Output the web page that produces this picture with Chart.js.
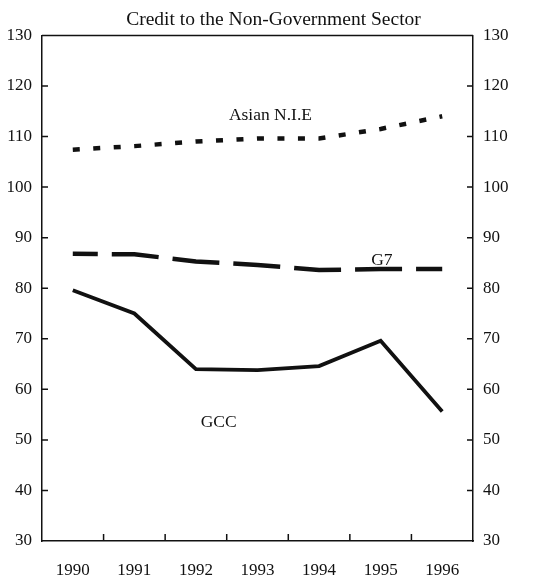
<!DOCTYPE html>
<html>
<head>
<meta charset="utf-8">
<script src="https://cdn.jsdelivr.net/npm/chart.js@4.4.1/dist/chart.umd.min.js"></script>
<style>
  body { margin: 0; background: #fff; }
  #creditChart { display: block; }
</style>
</head>
<body>
<canvas id="creditChart" width="547" height="582"></canvas>
<script>
// data
const years = ["1990", "1991", "1992", "1993", "1994", "1995", "1996"];
const asianNIE = [107.4, 108.1, 109.0, 109.6, 109.6, 111.5, 114.0];
const g7 = [86.8, 86.7, 85.3, 84.6, 83.6, 83.8, 83.8];
const gcc = [79.6, 75.0, 64.0, 63.8, 64.6, 69.6, 55.6];
const yTicks = [30, 40, 50, 60, 70, 80, 90, 100, 110, 120, 130];

const SERIF = "'Liberation Serif', 'DejaVu Serif', serif";
const INK = "#111";

// series names written next to the lines: [text, category index, value]
const seriesLabels = [
  ["Asian N.I.E", 3.21, 114.2],
  ["G7", 5.02, 85.4],
  ["GCC", 2.37, 53.4],
];

////////////// frame, inward ticks and line labels
const framePlugin = {
  id: "frame",
  afterDraw(chart) {
    const ctx = chart.ctx;
    const area = chart.chartArea;
    const x = chart.scales.x;
    const y = chart.scales.y;

    ctx.save();
    ctx.strokeStyle = INK;
    ctx.lineWidth = 1.5;

    // top edge of the box
    ctx.beginPath();
    ctx.moveTo(area.left, area.top);
    ctx.lineTo(area.right, area.top);
    ctx.stroke();

    // y ticks pointing into the plot on both sides
    ctx.beginPath();
    yTicks.forEach(v => {
      if (v === yTicks[0] || v === yTicks[yTicks.length - 1]) return;
      const py = y.getPixelForValue(v);
      ctx.moveTo(area.left, py);
      ctx.lineTo(area.left + 6, py);
      ctx.moveTo(area.right, py);
      ctx.lineTo(area.right - 6, py);
    });

    // x ticks between the years, pointing up
    for (let i = 0; i < years.length - 1; i++) {
      const px = (x.getPixelForValue(i) + x.getPixelForValue(i + 1)) / 2;
      ctx.moveTo(px, area.bottom);
      ctx.lineTo(px, area.bottom - 7);
    }
    ctx.stroke();

    // series names
    ctx.fillStyle = INK;
    ctx.font = "17.5px " + SERIF;
    ctx.textAlign = "center";
    ctx.textBaseline = "middle";
    seriesLabels.forEach(([text, xi, v]) => {
      ctx.fillText(text, x.getPixelForValue(xi), y.getPixelForValue(v));
    });
    ctx.restore();
  },
};

function axisWidth(w) {
  return function (scale) { scale.width = w; };
}

var ctxCredit = document.getElementById("creditChart").getContext("2d");

var creditChart = new Chart(ctxCredit, {
  type: "line",
  data: {
    labels: years,
    datasets: [
      {
        label: "Asian N.I.E",
        data: asianNIE,
        borderColor: INK,
        borderWidth: 4.5,
        borderDash: [7, 13.5],
        yAxisID: "y",
      },
      {
        label: "G7",
        data: g7,
        borderColor: INK,
        borderWidth: 4.5,
        borderDash: [47, 14],
        borderDashOffset: 22,
        yAxisID: "y",
      },
      {
        label: "GCC",
        data: gcc,
        borderColor: INK,
        borderWidth: 3.8,
        yAxisID: "y",
      },
    ],
  },
  options: {
    responsive: false,
    animation: false,
    events: [],
    elements: {
      point: { radius: 0 },
      line: { tension: 0, borderCapStyle: "butt", borderJoinStyle: "miter" },
    },
    layout: { padding: { top: 0, right: 0, bottom: 0, left: 0 } },
    scales: {
      x: {
        type: "category",
        offset: true,
        grid: { display: false, offset: true, drawTicks: false },
        border: { display: true, color: INK, width: 1.5 },
        ticks: {
          color: INK,
          padding: 19,
          font: { family: SERIF, size: 17 },
          maxRotation: 0,
        },
        afterFit(scale) { scale.height = 41; },
      },
      y: {
        position: "left",
        min: 30,
        max: 130,
        grid: { display: false, drawTicks: false },
        border: { display: true, color: INK, width: 1.5 },
        ticks: {
          stepSize: 10,
          color: INK,
          padding: 10,
          font: { family: SERIF, size: 17 },
        },
        afterFit: axisWidth(42),
      },
      y2: {
        position: "right",
        min: 30,
        max: 130,
        grid: { display: false, drawTicks: false },
        border: { display: true, color: INK, width: 1.5 },
        ticks: {
          stepSize: 10,
          color: INK,
          padding: 10,
          font: { family: SERIF, size: 17 },
        },
        afterFit: axisWidth(74),
      },
    },
    plugins: {
      legend: { display: false },
      tooltip: { enabled: false },
      title: {
        display: true,
        text: "Credit to the Non-Government Sector",
        color: INK,
        font: { family: SERIF, size: 19.5, weight: "normal" },
        padding: { top: 8, bottom: 4 },
      },
    },
  },
  plugins: [framePlugin],
});
</script>
</body>
</html>
